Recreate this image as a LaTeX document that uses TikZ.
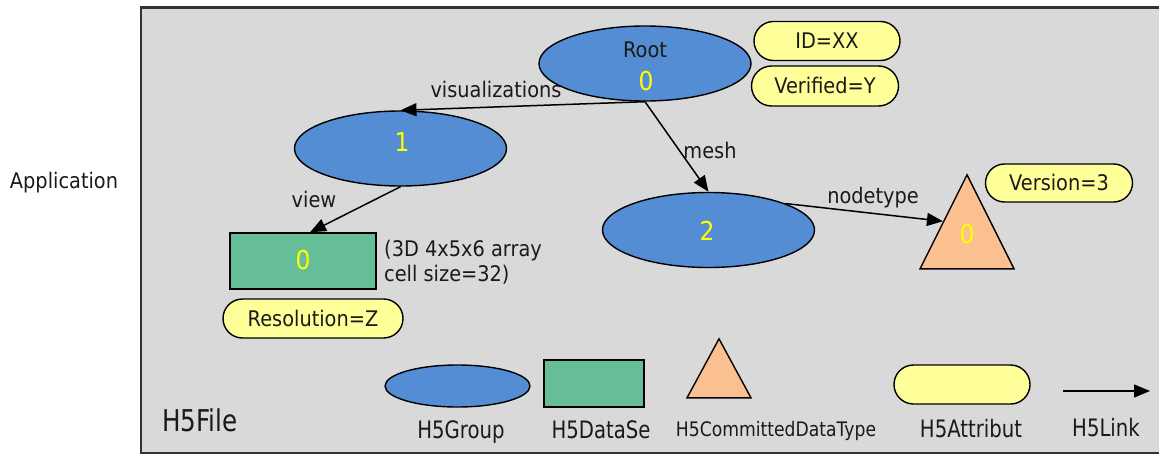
\documentclass[tikz,border=0pt]{standalone}
\usepackage{fontspec}
\setmainfont{DejaVu Sans}[FakeStretch=0.9]
\newfontfamily\legfont{DejaVu Sans}[FakeStretch=0.82]
\newfontfamily\typefont{DejaVu Sans}[FakeStretch=0.86]
\usetikzlibrary{shapes.geometric,shapes.misc,arrows.meta}

\definecolor{panel}{HTML}{D9D9D9}
\definecolor{grpblue}{HTML}{548DD4}
\definecolor{dsgreen}{HTML}{66BE99}
\definecolor{typeorange}{HTML}{FAC090}
\definecolor{attryellow}{HTML}{FFFF99}
\definecolor{numyellow}{HTML}{FFFF00}
\definecolor{ink}{HTML}{1A1A1A}

\tikzset{
  frame/.style={draw=black!80, line width=2.4pt, fill=panel},
  shapeline/.style={draw=black, line width=1.4pt},
  grp/.style={shapeline, ellipse, fill=grpblue, inner sep=0pt,
    minimum width=212pt, minimum height=75pt},
  dset/.style={shapeline, rectangle, fill=dsgreen, inner sep=0pt},
  dtype/.style={shapeline, isosceles triangle, isosceles triangle stretches,
    shape border rotate=90, fill=typeorange, inner sep=0pt},
  attr/.style={shapeline, rounded rectangle, fill=attryellow, inner sep=0pt,
    font=\fontsize{21.5}{25}\selectfont, text=ink,
    text height=15.7pt, text depth=0pt},
  txt/.style={font=\fontsize{21.5}{25}\selectfont, text=ink, inner sep=0pt, anchor=base},
  num/.style={font=\fontsize{26}{30}\selectfont, text=numyellow, inner sep=0pt, anchor=base},
  leg/.style={font=\legfont\fontsize{24}{28}\selectfont, text=ink, inner sep=0pt, anchor=base},
  link/.style={draw=black, line width=1.5pt, -{Triangle[length=16pt,width=13pt]}},
}

\begin{document}
\begin{tikzpicture}[x=1pt,y=-1pt]
\useasboundingbox (0,0) rectangle (1159,455);
\clip (0,0) rectangle (1159,455);

% application area holding the file
\node[txt] (app) at (64,188) {Application};
\draw[frame] (141,7.5) rectangle (1180,453);

% groups
\node[grp] (root) at (645,63.5) {};
\node[txt] (rootname) at (645,57) {Root};
\node[num] (rootid) at (646,90) {0};

\node[grp] (vis) at (400.5,148.5) {};
\node[num] (visid) at (402,151) {1};

\node[grp] (mesh) at (708.5,230) {};
\node[num] (meshid) at (707,240) {2};

% dataset with its description (anchored on the baseline of its last line)
\node[dset, minimum width=146pt, minimum height=56pt] (view) at (303,261) {};
\node[num] (viewid) at (303,269) {0};
\node[txt, anchor=base west, align=left] (viewinfo) at (384,281)
  {(3D 4x5x6 array\\cell size=32)};

% committed datatype
\node[dtype, minimum width=94pt, minimum height=94pt, anchor=apex] (ntype) at (967,173) {};
\node[num] (ntypeid) at (967,243) {0};

% attributes
\node[attr, minimum width=146pt, minimum height=39pt] (idattr) at (827,41) {ID=XX};
\node[attr, minimum width=147pt, minimum height=40pt] (verattr) at (825,86) {Verified=Y};
\node[attr, minimum width=147pt, minimum height=38pt] (versionattr) at (1059,183) {Version=3};
\node[attr, minimum width=180pt, minimum height=39pt] (resattr) at (313,318.5) {Resolution=Z};

% links
\draw[link] (root.south) -- (vis.north);
\draw[link] (root.south) -- (mesh.north);
\draw[link] (vis.south) -- ([xshift=7pt]view.north);
\draw[link] (mesh.19) -- (ntype.left side);

\node[txt] (lvis) at (496,97) {visualizations};
\node[txt] (lmesh) at (710,158) {mesh};
\node[txt] (lview) at (314,207) {view};
\node[txt] (lntype) at (873,203) {nodetype};

% legend
\node[txt, anchor=base west, font=\legfont\fontsize{30}{34}\selectfont] (filelab) at (162,431) {H5File};

\node[shapeline, ellipse, fill=grpblue, minimum width=145pt, minimum height=42pt, inner sep=0pt] (lgrp) at (457.5,386) {};
\node[leg] (lgrplab) at (461,438) {H5Group};

\node[dset, minimum width=100pt, minimum height=47pt] (lds) at (594,383.5) {};
\node[leg] (ldslab) at (601,438) {H5DataSe};

\node[dtype, minimum width=64pt, minimum height=59pt, anchor=apex] (ltri) at (719,337) {};
\node[leg, font=\typefont\fontsize{20}{24}\selectfont] (ltrilab) at (776,436) {H5CommittedDataType};

\node[attr, minimum width=136pt, minimum height=39pt] (lattr) at (962,384.5) {};
\node[leg] (lattrlab) at (971,437) {H5Attribut};

\coordinate (lkA) at (1063,391);
\coordinate (lkB) at (1150,391);
\draw[link] (lkA) -- (lkB);
\node[leg] (lklab) at (1106,436) {H5Link};
\end{tikzpicture}
\end{document}
